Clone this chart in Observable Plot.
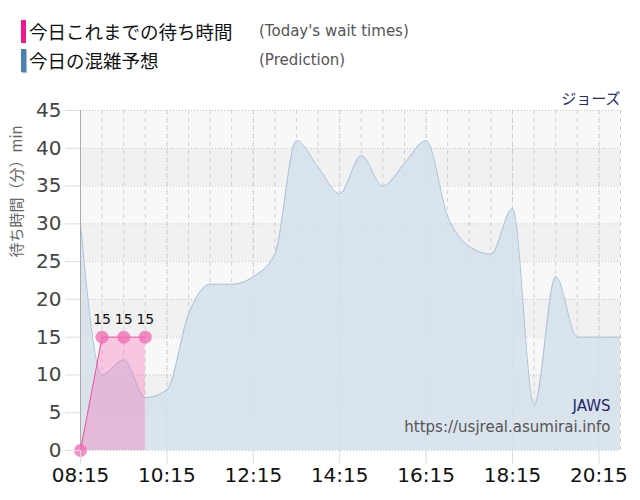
<!DOCTYPE html>
<html><head><meta charset="utf-8">
<script src="https://cdn.jsdelivr.net/npm/d3@7"></script>
<script src="https://cdn.jsdelivr.net/npm/@observablehq/plot@0.6"></script>
<style>
body{margin:0;background:#fff;font-family:"DejaVu Sans","Noto Sans CJK JP",sans-serif;}
#legend{position:relative;height:75px;width:640px;}
.row{position:absolute;left:21px;height:23px;}
.bar{position:absolute;left:0;top:0;width:5px;height:23px;}
.jp{position:absolute;left:8px;top:0;line-height:23px;font-size:18.5px;color:#111;font-family:"Noto Sans CJK JP",sans-serif;white-space:nowrap;}
.en{position:absolute;left:238px;top:0;line-height:23px;font-size:15px;color:#555;font-family:"DejaVu Sans",sans-serif;white-space:nowrap;}
</style></head>
<body>
<div id="legend">
 <div class="row" style="top:20px"><div class="bar" style="background:#f0188c"></div><div class="jp">今日これまでの待ち時間</div><div class="en">(Today's wait times)</div></div>
 <div class="row" style="top:49px"><div class="bar" style="background:#4682b4;box-shadow:1px 1px 1px #bbb"></div><div class="jp">今日の混雑予想</div><div class="en">(Prediction)</div></div>
</div>
<div id="chart"></div>
<script>
const times = ["08:15","08:45","09:15","09:45","10:15","10:45","11:15","11:45","12:15","12:45","13:15","13:45","14:15","14:45","15:15","15:45","16:15","16:45","17:15","17:45","18:15","18:45","19:15","19:45","20:15","20:45"];
const prediction = [30,10,12,7,8,18,22,22,23,26,41,37.5,34,39,35,38,41,31,27,26,32,6,23,15,15,15];
const actualTimes = ["08:15","08:45","09:15","09:45"];
const actualValues = [0,15,15,15];
const xTickLabels = ["08:15","10:15","12:15","14:15","16:15","18:15","20:15"];
const yTicks = [0,5,10,15,20,25,30,35,40,45];

const parse = s => { const [h,m] = s.split(":").map(Number); return new Date(Date.UTC(2024,0,1,h,m)); };
const pred = times.map((t,i) => ({t: parse(t), v: prediction[i]}));
const act = actualTimes.map((t,i) => ({t: parse(t), v: actualValues[i]}));
const xTicks = xTickLabels.map(parse);
const grid30 = times.map(parse);
const bands = yTicks.slice(0,-1).map((y,i) => ({y1:y, y2:yTicks[i+1], f: (i%2===0) ? "#f8f8f8" : "#f1f1f1"}));
const fmt = d3.utcFormat("%H:%M");

const chart = Plot.plot({
  width: 640, height: 425,
  marginTop: 35, marginBottom: 50, marginLeft: 80, marginRight: 20,
  style: {fontFamily: "DejaVu Sans, Noto Sans CJK JP, sans-serif", background: "transparent"},
  x: {type: "utc", domain: [parse("08:15"), parse("20:45")]},
  y: {domain: [0, 45]},
  marks: [
    Plot.rectY(bands, {x1: parse("08:15"), x2: parse("20:45"), y1: "y1", y2: "y2", fill: "f"}),
    Plot.ruleY(yTicks, {stroke: "#c4c4c4", strokeDasharray: "1,2"}),
    Plot.ruleX(grid30, {stroke: "#d0d0d0", strokeDasharray: "4,4"}),
    Plot.ruleX(xTicks, {stroke: "#c8c8c8", strokeDasharray: "1,2"}),
    Plot.areaY(pred, {x: "t", y: "v", curve: "monotone-x", fill: "#d5e0ea", fillOpacity: 0.85}),
    Plot.lineY(pred, {x: "t", y: "v", curve: "monotone-x", stroke: "#a9c2da", strokeWidth: 1}),
    Plot.areaY(act, {x: "t", y: "v", fill: "#f56bb8", fillOpacity: 0.35}),
    Plot.lineY(act, {x: "t", y: "v", stroke: "#e8579f", strokeWidth: 1}),
    Plot.ruleX([parse("08:15")], {stroke: "#aaaaaa"}),
    Plot.dot(act, {x: "t", y: "v", r: 6.5, fill: "#f06ab3", fillOpacity: 0.75, stroke: "none"}),
    Plot.text(act.filter(d => d.v > 0), {x: "t", y: "v", text: d => String(d.v), dy: -18, fontSize: 14, fill: "#111"}),
    Plot.axisY({ticks: yTicks, tickSize: 15, tickPadding: 4, fontSize: 20, stroke: "#dddddd", fill: "#444", label: null}),
    Plot.axisX({ticks: xTicks, tickFormat: fmt, tickSize: 14, tickPadding: 3, fontSize: 20, stroke: "#dddddd", fill: "#111", label: null}),
    Plot.text(["待ち時間（分）min"], {frameAnchor: "left", rotate: -90, dx: -63, dy: -23, fontSize: 15, fill: "#666", fontFamily: "Noto Sans CJK JP, sans-serif"}),
    Plot.text(["ジョーズ"], {frameAnchor: "top-right", dy: -17, dx: 0, fontSize: 15, fill: "#2a2a78", textAnchor: "end", fontFamily: "Noto Sans CJK JP, sans-serif"}),
    Plot.text(["JAWS"], {frameAnchor: "bottom-right", dy: -40, dx: -10, fontSize: 15, fill: "#24246e", textAnchor: "end"}),
    Plot.text(["https://usjreal.asumirai.info"], {frameAnchor: "bottom-right", dy: -19, dx: -10, fontSize: 15, fill: "#555", textAnchor: "end"})
  ]
});
document.getElementById("chart").appendChild(chart);
</script>
</body></html>
